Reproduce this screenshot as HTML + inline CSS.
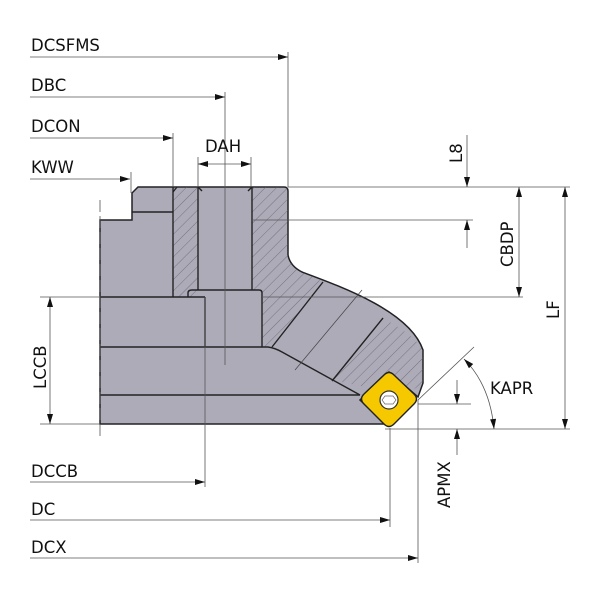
<!DOCTYPE html>
<html><head><meta charset="utf-8"><style>
html,body{margin:0;padding:0;background:#fff}
svg{display:block}
text{font-family:"DejaVu Sans","Liberation Sans",sans-serif;font-size:16.5px;fill:#111}
</style></head><body>
<svg width="600" height="600" viewBox="0 0 600 600" xmlns="http://www.w3.org/2000/svg">
<defs>
<pattern id="h" width="8" height="8" patternUnits="userSpaceOnUse" patternTransform="rotate(45)">
<line x1="0" y1="0" x2="0" y2="8" stroke="#5a5a66" stroke-width="0.7"/>
</pattern>
<marker id="a" viewBox="0 0 10 6" refX="10" refY="3" markerWidth="18" markerHeight="6" markerUnits="userSpaceOnUse" orient="auto-start-reverse">
<path d="M0,0 L10,3 L0,6 Z" fill="#111"/>
</marker>
</defs>

<path d="M100,220 L132,220 L132,193 L138,187 L284,187 Q288,187 288,191 L288,255 Q290,266 302,272 C345,288 410,312 423,350 L423,383 L418,397 L389,372 L360,400 L385,424 L100,424 Z" fill="#aeabb9" stroke="#222" stroke-width="1.5"/>
<rect x="173" y="187" width="25" height="110" fill="url(#h)"/>
<path d="M252,187 L284,187 Q288,187 288,191 L288,255 Q290,266 302,272 L323,282 L272,347 L262,347 L262,290 L252,290 Z" fill="url(#h)"/>
<path d="M383,318 C400,328 418,338 423,352 L423,383 L410,392 L389,372 L370,388 L332,380 Z" fill="url(#h)"/>
<g stroke="#222" stroke-width="1.4" fill="none">
<line x1="132" y1="212" x2="173" y2="212"/>
<line x1="173" y1="187" x2="173" y2="297"/>
<line x1="198" y1="187" x2="198" y2="290"/>
<line x1="252" y1="187" x2="252" y2="290"/>
<line x1="100" y1="297" x2="205" y2="297"/>
<line x1="205" y1="297" x2="205" y2="347"/>
<path d="M188,297 L188,293 Q188,290 192,290 L259,290 Q262,290 262,293 L262,347"/>
<path d="M100,347 L268,347 Q275,348 282,352 L360,395"/>
<line x1="100" y1="395" x2="360" y2="395"/>
<line x1="323" y1="282" x2="272" y2="347"/>
<line x1="383" y1="318" x2="332" y2="381"/>
<line x1="177" y1="187" x2="173" y2="192"/>
<line x1="198" y1="187" x2="202" y2="191"/>
<line x1="252" y1="187" x2="248" y2="191"/>
</g>
<line x1="362" y1="290" x2="295" y2="370" stroke="#444" stroke-width="0.7"/>

<path d="M384,375 Q389,370 394,375 L414,394 Q419,399 414,404 L394,424 Q389,429 384,424 L364,404 Q359,399 364,394 Z" fill="#f5c800" stroke="#222" stroke-width="1.4"/>
<circle cx="389" cy="400" r="9" fill="#fff" stroke="#333" stroke-width="1.2"/>
<polygon points="385,396 393,396 396,400 393,404 385,404 382,400" fill="none" stroke="#666" stroke-width="0.7"/>

<g stroke="#555" stroke-width="0.8" fill="none">
<line x1="100" y1="200" x2="100" y2="437" stroke-dasharray="12,4"/>
<line x1="288" y1="52" x2="288" y2="187"/>
<line x1="225" y1="92" x2="225" y2="365"/>
<line x1="173" y1="133" x2="173" y2="187"/>
<line x1="131" y1="172" x2="131" y2="193"/>
<line x1="198" y1="157" x2="198" y2="187"/>
<line x1="251" y1="157" x2="251" y2="187"/>
<line x1="288" y1="187" x2="570" y2="187"/>
<line x1="252" y1="220" x2="473" y2="220"/>
<line x1="262" y1="297" x2="523" y2="297"/>
<line x1="40" y1="297" x2="100" y2="297"/>
<line x1="40" y1="424" x2="100" y2="424"/>
<line x1="385" y1="429" x2="570" y2="429"/>
<line x1="418" y1="404" x2="471" y2="404"/>
<line x1="418" y1="400" x2="474" y2="347"/>
<line x1="205" y1="297" x2="205" y2="487"/>
<line x1="390" y1="428" x2="390" y2="527"/>
<line x1="418" y1="400" x2="418" y2="563"/>
</g>

<g stroke="#555" stroke-width="0.8" fill="none">
<line x1="30" y1="57" x2="288" y2="57" marker-end="url(#a)"/>
<line x1="30" y1="97" x2="225" y2="97" marker-end="url(#a)"/>
<line x1="30" y1="138" x2="173" y2="138" marker-end="url(#a)"/>
<line x1="30" y1="179" x2="130" y2="179" marker-end="url(#a)"/>
<line x1="225" y1="164" x2="198" y2="164" marker-end="url(#a)"/>
<line x1="225" y1="164" x2="251" y2="164" marker-end="url(#a)"/>
<line x1="467" y1="135" x2="467" y2="187" marker-end="url(#a)"/>
<line x1="467" y1="248" x2="467" y2="220" marker-end="url(#a)"/>
<line x1="519" y1="187" x2="519" y2="297" marker-start="url(#a)" marker-end="url(#a)"/>
<line x1="565" y1="187" x2="565" y2="429" marker-start="url(#a)" marker-end="url(#a)"/>
<line x1="50" y1="297" x2="50" y2="424" marker-start="url(#a)" marker-end="url(#a)"/>
<line x1="457" y1="380" x2="457" y2="404" marker-end="url(#a)"/>
<line x1="457" y1="455" x2="457" y2="429" marker-end="url(#a)"/>
<path d="M464,359 Q490,385 494,429" marker-start="url(#a)" marker-end="url(#a)"/>
<line x1="30" y1="482" x2="205" y2="482" marker-end="url(#a)"/>
<line x1="30" y1="520" x2="390" y2="520" marker-end="url(#a)"/>
<line x1="30" y1="558" x2="418" y2="558" marker-end="url(#a)"/>
</g>

<text x="31" y="51">DCSFMS</text>
<text x="31" y="91">DBC</text>
<text x="31" y="132">DCON</text>
<text x="31" y="173">KWW</text>
<text x="205" y="152">DAH</text>
<text x="31" y="477">DCCB</text>
<text x="31" y="515">DC</text>
<text x="31" y="553">DCX</text>
<text x="490" y="394">KAPR</text>
<text transform="translate(462,163) rotate(-90)">L8</text>
<text transform="translate(513,267) rotate(-90)">CBDP</text>
<text transform="translate(559,319) rotate(-90)">LF</text>
<text transform="translate(46,389) rotate(-90)">LCCB</text>
<text transform="translate(450,508) rotate(-90)">APMX</text>
</svg>
</body></html>
